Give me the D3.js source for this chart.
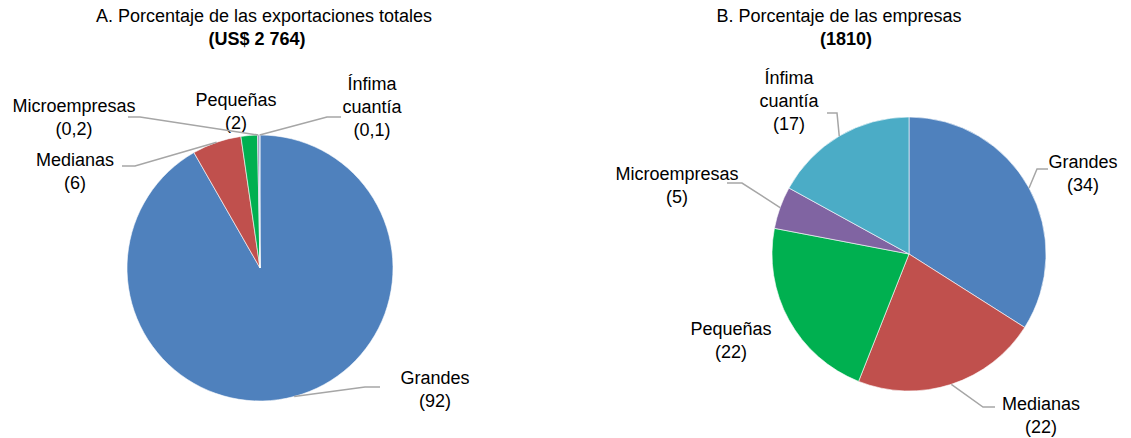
<!DOCTYPE html>
<html>
<head>
<meta charset="utf-8">
<script src="https://cdn.jsdelivr.net/npm/d3@7"></script>
<style>
  body { margin: 0; background: #fff; }
  svg text { font-family: "Liberation Sans", Arial, sans-serif; font-size: 18px; fill: #000; }
  .leader { fill: none; stroke: #a6a6a6; stroke-width: 1.5; }
</style>
</head>
<body>
<div id="chart"></div>
<script>
// data
var categories = ["Grandes", "Medianas", "Pequeñas", "Microempresas", "Ínfima cuantía"];
var exportShare = [92, 6, 2, 0.2, 0.1];
var exportLabels = ["92", "6", "2", "0,2", "0,1"];
var firmShare = [34, 22, 22, 5, 17];
var firmLabels = ["34", "22", "22", "5", "17"];
var titles = ["A. Porcentaje de las exportaciones totales", "B. Porcentaje de las empresas"];
var subtitles = ["(US$ 2 764)", "(1810)"];

var colors = ["#4f81bd", "#c0504d", "#00b050", "#8064a2", "#4bacc6"];

var width = 1131, height = 438;

// layout: pie centres, label anchors and leader elbows
var panels = [
  {cx: 260, cy: 268, r: 133, titleX: 264, subX: 257, values: exportShare, labels: exportLabels,
   text: [
     {x: 435, y: 384, elbow: [365, 387], end: 380},
     {x: 75, y: 166, elbow: [135, 166], end: 122},
     {x: 236, y: 106, elbow: null},
     {x: 74, y: 112, elbow: [140, 117], end: 128},
     {x: 372, y: 90, elbow: [327, 117], end: 341}
   ]},
  {cx: 909, cy: 254, r: 137, titleX: 839, subX: 846, values: firmShare, labels: firmLabels,
   text: [
     {x: 1083, y: 168, elbow: [1037, 169], end: 1048},
     {x: 1041, y: 410, elbow: [983, 407], end: 995},
     {x: 731, y: 335, elbow: null},
     {x: 677, y: 180, elbow: [742, 183], end: 727},
     {x: 789, y: 84, elbow: [837, 113], end: 827}
   ]}
];

var svg = d3.select("#chart").append("svg")
  .attr("width", width).attr("height", height);

var pie = d3.pie().sort(null).value(function(d) { return d; });
var lineH = 23;

panels.forEach(function(p, k) {
  svg.append("text").attr("x", p.titleX).attr("y", 22)
    .attr("text-anchor", "middle").text(titles[k]);
  svg.append("text").attr("x", p.subX).attr("y", 45)
    .attr("text-anchor", "middle").attr("font-weight", "bold").text(subtitles[k]);

  var arcs = pie(p.values);
  var arc = d3.arc().innerRadius(0).outerRadius(p.r);
  var g = svg.append("g").attr("transform", "translate(" + p.cx + "," + p.cy + ")");

  g.selectAll("path.slice").data(arcs).enter().append("path")
    .attr("class", "slice")
    .attr("d", arc)
    .attr("fill", function(d, i) { return colors[i]; })
    .attr("stroke", "#fff").attr("stroke-width", 0.6);

  arcs.forEach(function(d, i) {
    var t = p.text[i];
    if (t.elbow) {
      var a = (d.startAngle + d.endAngle) / 2;
      var sx = p.cx + p.r * Math.sin(a), sy = p.cy - p.r * Math.cos(a);
      svg.append("path").attr("class", "leader")
        .attr("d", d3.line()([[sx, sy], t.elbow, [t.end, t.elbow[1]]]));
    }
    var lines = categories[i] === "Ínfima cuantía" ? ["Ínfima", "cuantía"] : [categories[i]];
    lines.push("(" + p.labels[i] + ")");
    var txt = svg.append("text").attr("text-anchor", "middle");
    lines.forEach(function(s, j) {
      txt.append("tspan").attr("x", t.x).attr("y", t.y + j * lineH).text(s);
    });
  });
});
</script>
</body>
</html>
